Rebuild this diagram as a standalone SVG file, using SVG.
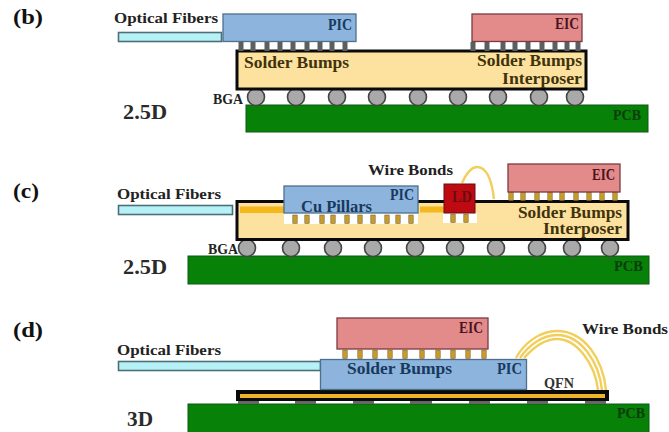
<svg xmlns="http://www.w3.org/2000/svg" width="669" height="432" viewBox="0 0 669 432">
<style>
text{font-family:"Liberation Serif","DejaVu Serif",serif;font-weight:bold;font-size:15px;fill:#222}
.tag{font-size:21px;fill:#111}
.dim{font-size:20px;fill:#2a2a2a}
.s{font-size:16px}
.pic{fill:#8db4dc;stroke:#4e6f8e;stroke-width:1.3}
.eic{fill:#e38a8a;stroke:#7a3a42;stroke-width:1.3}
.fiber{fill:#b5f1f7;stroke:#4f6f78;stroke-width:1.6}
.inter{fill:#fde29f;stroke:#0a0a0a;stroke-width:3}
.pcb{fill:#088108;stroke:#0a5a14;stroke-width:1}
.ball{fill:#a9a9a9;stroke:#444;stroke-width:1.6}
.pin{fill:#5c5f60}
.gpin{fill:#c79a2a;stroke:#6a5a2a;stroke-width:.5}
.wire{fill:none;stroke:#f2cf5c;stroke-width:2.4}
.lp{fill:#173a5e}.le{fill:#4a1420}.lg{fill:#0b3d0b;font-size:14px}.ls{fill:#3f320c}
</style>
<defs>
<circle id="b3" class="ball" r="8.500"/>
<rect id="gp" class="gpin" x="-2.200" y="0" width="4.400" height="8.500"/>
<rect id="dp" class="pin" x="-2.500" y="0" width="5" height="9"/>
</defs>
<g id="labels">
<text class="tag" x="13" y="24" textLength="30" lengthAdjust="spacingAndGlyphs">(b)</text>
<text class="tag" x="13" y="198" textLength="26" lengthAdjust="spacingAndGlyphs">(c)</text>
<text class="tag" x="13" y="337" textLength="30" lengthAdjust="spacingAndGlyphs">(d)</text>
<text class="dim" x="123" y="119" textLength="44" lengthAdjust="spacingAndGlyphs">2.5D</text>
<text class="dim" x="123" y="274" textLength="44" lengthAdjust="spacingAndGlyphs">2.5D</text>
<text class="dim" x="127" y="426" textLength="26" lengthAdjust="spacingAndGlyphs">3D</text>
</g>
<g id="connectors">
<path class="wire" d="M462 183C467 172 472 167 477 167C487 167 492 182 494 199"/>
<path class="wire" d="M516 358C524 343 540 331 557 331C585 331 603 360 606 390"/>
<path class="wire" d="M520 358C528 346 542 335 557 335C581 335 599 362 602 390"/>
<path class="wire" d="M524 358C532 349 544 339 557 339C577 339 595 364 598 390"/>
</g>
<g id="panel-b">
<g id="b-pcb"><rect class="pcb" x="246" y="105" width="402" height="27"/><text class="lg" x="613" y="120" textLength="28" lengthAdjust="spacingAndGlyphs">PCB</text></g>
<g id="b-bga"><use href="#b3" x="256" y="97"/><use href="#b3" x="296" y="97"/><use href="#b3" x="337" y="97"/><use href="#b3" x="377" y="97"/><use href="#b3" x="418" y="97"/><use href="#b3" x="458" y="97"/><use href="#b3" x="498" y="97"/><use href="#b3" x="539" y="97"/><use href="#b3" x="575" y="97"/><text x="213" y="104" textLength="30" lengthAdjust="spacingAndGlyphs" style="font-size:14px">BGA</text></g>
<g id="b-interposer"><rect class="inter" x="237" y="51" width="349" height="38"/><text class="ls s" x="244" y="68" textLength="105" lengthAdjust="spacingAndGlyphs">Solder Bumps</text><text class="ls s" x="477" y="66" textLength="105" lengthAdjust="spacingAndGlyphs">Solder Bumps</text><text class="ls s" x="502" y="84" textLength="80" lengthAdjust="spacingAndGlyphs">Interposer</text></g>
<g id="b-fiber"><rect class="fiber" x="118.500" y="32.500" width="103" height="9"/><text x="114" y="23" textLength="104" lengthAdjust="spacingAndGlyphs">Optical Fibers</text></g>
<g id="b-pic"><use href="#dp" x="241" y="42"/><use href="#dp" x="253" y="42"/><use href="#dp" x="267" y="42"/><use href="#dp" x="280" y="42"/><use href="#dp" x="293" y="42"/><use href="#dp" x="307" y="42"/><use href="#dp" x="320" y="42"/><use href="#dp" x="332" y="42"/><use href="#dp" x="345" y="42"/><rect class="pic" x="223" y="14" width="133" height="27.500"/><text class="lp s" x="328" y="30" textLength="24" lengthAdjust="spacingAndGlyphs">PIC</text></g>
<g id="b-eic"><use href="#dp" x="473" y="42"/><use href="#dp" x="487" y="42"/><use href="#dp" x="503" y="42"/><use href="#dp" x="515" y="42"/><use href="#dp" x="528" y="42"/><use href="#dp" x="542" y="42"/><use href="#dp" x="555" y="42"/><use href="#dp" x="567" y="42"/><use href="#dp" x="578" y="42"/><rect class="eic" x="472" y="14" width="110" height="27.500"/><text class="le s" x="555" y="29" textLength="24" lengthAdjust="spacingAndGlyphs">EIC</text></g>
</g>
<g id="panel-c">
<g id="c-pcb"><rect class="pcb" x="188" y="256" width="461" height="28"/><text class="lg" x="614" y="271" textLength="29" lengthAdjust="spacingAndGlyphs">PCB</text></g>
<g id="c-bga"><use href="#b3" x="247" y="248"/><use href="#b3" x="291" y="248"/><use href="#b3" x="333" y="248"/><use href="#b3" x="373" y="248"/><use href="#b3" x="415" y="248"/><use href="#b3" x="455" y="248"/><use href="#b3" x="496" y="248"/><use href="#b3" x="537" y="248"/><use href="#b3" x="572" y="248"/><use href="#b3" x="610" y="248"/><text x="208" y="254" textLength="30" lengthAdjust="spacingAndGlyphs" style="font-size:14px">BGA</text></g>
<g id="c-interposer"><rect class="inter" x="237" y="201.500" width="391" height="38"/><rect x="240" y="206.500" width="45" height="6.500" fill="#f5b81c"/><rect x="420" y="206.500" width="24" height="6" fill="#f5b81c"/><rect x="284" y="213" width="134" height="11" fill="#fff"/><rect x="443" y="213" width="34" height="10" fill="#fff"/><text class="ls s" x="518" y="218" textLength="104" lengthAdjust="spacingAndGlyphs">Solder Bumps</text><text class="ls s" x="543" y="234" textLength="79" lengthAdjust="spacingAndGlyphs">Interposer</text></g>
<g id="c-fiber"><rect class="fiber" x="118.500" y="205.500" width="114" height="9"/><text x="117" y="199" textLength="104" lengthAdjust="spacingAndGlyphs">Optical Fibers</text></g>
<g id="c-pic"><use href="#gp" x="295" y="215"/><use href="#gp" x="307" y="215"/><use href="#gp" x="322" y="215"/><use href="#gp" x="333" y="215"/><use href="#gp" x="347" y="215"/><use href="#gp" x="360" y="215"/><use href="#gp" x="373" y="215"/><use href="#gp" x="387" y="215"/><use href="#gp" x="398" y="215"/><use href="#gp" x="411" y="215"/><rect class="pic" x="284" y="186" width="134" height="27"/><text class="lp s" x="301" y="212" textLength="71" lengthAdjust="spacingAndGlyphs">Cu Pillars</text><text class="lp s" x="390" y="200" textLength="24" lengthAdjust="spacingAndGlyphs">PIC</text></g>
<g id="c-ld"><use href="#gp" x="453" y="214"/><use href="#gp" x="466" y="214"/><rect x="444" y="184" width="31" height="29" fill="#c00a12" stroke="#5e1014"/><text class="s" x="452" y="202" textLength="20" lengthAdjust="spacingAndGlyphs" style="fill:#6b0c10">LD</text></g>
<g id="c-eic"><use href="#gp" x="511" y="192"/><use href="#gp" x="523" y="192"/><use href="#gp" x="537" y="192"/><use href="#gp" x="550" y="192"/><use href="#gp" x="562" y="192"/><use href="#gp" x="576" y="192"/><use href="#gp" x="589" y="192"/><use href="#gp" x="602" y="192"/><use href="#gp" x="615" y="192"/><rect class="eic" x="508" y="164" width="112" height="28"/><text class="le s" x="592" y="180" textLength="23" lengthAdjust="spacingAndGlyphs">EIC</text></g>
<text id="c-wire-label" x="368" y="175" textLength="85" lengthAdjust="spacingAndGlyphs">Wire Bonds</text>
</g>
<g id="panel-d">
<g id="d-pcb"><rect class="pcb" x="188" y="404" width="461" height="29"/><text class="lg" x="617" y="418" textLength="28" lengthAdjust="spacingAndGlyphs">PCB</text></g>
<g id="d-qfn"><rect x="238" y="400" width="21" height="4" fill="#666"/><rect x="295" y="400" width="21" height="4" fill="#666"/><rect x="353" y="400" width="21" height="4" fill="#666"/><rect x="410" y="400" width="22" height="4" fill="#666"/><rect x="469" y="400" width="21" height="4" fill="#666"/><rect x="527" y="400" width="21" height="4" fill="#666"/><rect x="585" y="400" width="21" height="4" fill="#666"/><rect x="236" y="390" width="373" height="11" fill="#0a0a0a"/><rect x="240" y="394" width="365" height="4" fill="#f0b428"/><text x="544" y="388" textLength="30" lengthAdjust="spacingAndGlyphs" style="fill:#333">QFN</text></g>
<g id="d-fiber"><rect class="fiber" x="118.500" y="361.500" width="202" height="9"/><text x="117" y="355" textLength="104" lengthAdjust="spacingAndGlyphs">Optical Fibers</text></g>
<g id="d-pic"><rect class="pic" x="320.500" y="359.500" width="206" height="30"/><text class="lp s" x="347" y="374" textLength="105" lengthAdjust="spacingAndGlyphs">Solder Bumps</text><text class="lp s" x="497" y="374" textLength="25" lengthAdjust="spacingAndGlyphs">PIC</text></g>
<g id="d-eic"><use href="#gp" x="345" y="350"/><use href="#gp" x="360" y="350"/><use href="#gp" x="375" y="350"/><use href="#gp" x="390" y="350"/><use href="#gp" x="405" y="350"/><use href="#gp" x="422" y="350"/><use href="#gp" x="438" y="350"/><use href="#gp" x="453" y="350"/><use href="#gp" x="468" y="350"/><use href="#gp" x="484" y="350"/><rect class="eic" x="337" y="318" width="151" height="31"/><text class="le s" x="459" y="333" textLength="24" lengthAdjust="spacingAndGlyphs">EIC</text></g>
<text id="d-wire-label" x="582" y="334" textLength="86" lengthAdjust="spacingAndGlyphs">Wire Bonds</text>
</g>
</svg>
